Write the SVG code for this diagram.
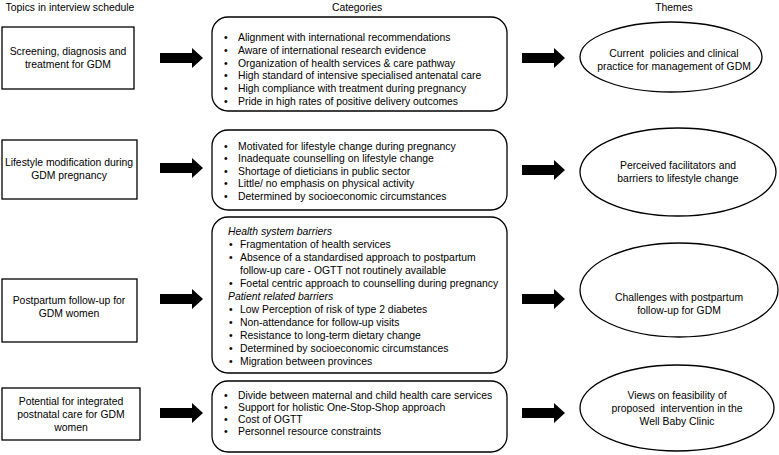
<svg xmlns="http://www.w3.org/2000/svg" width="779" height="455" viewBox="0 0 779 455">
<defs>
<style>
text{font-family:"Liberation Sans",Arial,sans-serif;font-size:10.4px;fill:#000}
.c{text-anchor:middle}
.i{font-style:italic}
.box{fill:#fff;stroke:#000;stroke-width:1.3}
.arr{fill:#000}
</style>
<path id="arr" d="M0,-5 H32 V-10 L43,0 L32,10 V5 H0 Z"/>
</defs>
<rect width="779" height="455" fill="#fff"/>
<g id="headers">
<text class="c" x="70" y="11">Topics in interview schedule</text>
<text class="c" x="357" y="11">Categories</text>
<text class="c" x="674" y="11">Themes</text>
</g>
<g id="topic1"><rect class="box" x="2" y="27" width="132" height="62"/>
<text class="c" x="68" y="55">Screening, diagnosis and</text><text class="c" x="68" y="68">treatment for GDM</text></g>
<g id="topic2"><rect class="box" x="2" y="140" width="135" height="59"/>
<text class="c" x="69" y="166">Lifestyle modification during</text><text class="c" x="69" y="179">GDM pregnancy</text></g>
<g id="topic3"><rect class="box" x="2" y="279" width="135" height="63"/>
<text class="c" x="69" y="304">Postpartum follow-up for</text><text class="c" x="69" y="317">GDM women</text></g>
<g id="topic4"><rect class="box" x="2" y="388" width="138" height="52"/>
<text class="c" x="71" y="405">Potential for integrated</text><text class="c" x="71" y="418">postnatal care for GDM</text><text class="c" x="71" y="431">women</text></g>
<g id="cat1"><rect class="box" x="212" y="17" width="295" height="94" rx="16"/>
<text x="224" y="41">•</text><text x="238" y="41">Alignment with international recommendations</text>
<text x="224" y="53.8">•</text><text x="238" y="53.8">Aware of international research evidence</text>
<text x="224" y="66.6">•</text><text x="238" y="66.6">Organization of health services &amp; care pathway</text>
<text x="224" y="79.4">•</text><text x="238" y="79.4">High standard of intensive specialised antenatal care</text>
<text x="224" y="92.2">•</text><text x="238" y="92.2">High compliance with treatment during pregnancy</text>
<text x="224" y="105">•</text><text x="238" y="105">Pride in high rates of positive delivery outcomes</text>
</g>
<g id="cat2"><rect class="box" x="212" y="130" width="295" height="80" rx="16"/>
<text x="224" y="149.5">•</text><text x="238" y="149.5">Motivated for lifestyle change during pregnancy</text>
<text x="224" y="162">•</text><text x="238" y="162">Inadequate counselling on lifestyle change</text>
<text x="224" y="174.5">•</text><text x="238" y="174.5">Shortage of dieticians in public sector</text>
<text x="224" y="187">•</text><text x="238" y="187">Little/ no emphasis on physical activity</text>
<text x="224" y="199.5">•</text><text x="238" y="199.5">Determined by socioeconomic circumstances</text>
</g>
<g id="cat3"><rect class="box" x="212" y="217" width="295" height="156" rx="16"/>
<text class="i" x="228" y="235">Health system barriers</text>
<text x="229" y="248">•</text><text x="240" y="248">Fragmentation of health services</text>
<text x="229" y="261">•</text><text x="240" y="261">Absence of a standardised approach to postpartum</text>
<text x="240" y="274">follow-up care - OGTT not routinely available</text>
<text x="229" y="287">•</text><text x="240" y="287">Foetal centric approach to counselling during pregnancy</text>
<text class="i" x="228" y="300">Patient related barriers</text>
<text x="229" y="313">•</text><text x="240" y="313">Low Perception of risk of type 2 diabetes</text>
<text x="229" y="326">•</text><text x="240" y="326">Non-attendance for follow-up visits</text>
<text x="229" y="339">•</text><text x="240" y="339">Resistance to long-term dietary change</text>
<text x="229" y="352">•</text><text x="240" y="352">Determined by socioeconomic circumstances</text>
<text x="229" y="365">•</text><text x="240" y="365">Migration between provinces</text>
</g>
<g id="cat4"><rect class="box" x="212" y="381" width="295" height="71" rx="16"/>
<text x="224" y="399">•</text><text x="238" y="399">Divide between maternal and child health care services</text>
<text x="224" y="411">•</text><text x="238" y="411">Support for holistic One-Stop-Shop approach</text>
<text x="224" y="423">•</text><text x="238" y="423">Cost of OGTT</text>
<text x="224" y="435">•</text><text x="238" y="435">Personnel resource constraints</text>
</g>
<g id="theme1"><ellipse class="box" cx="671" cy="57" rx="91" ry="35"/>
<text class="c" x="674" y="57" style="white-space:pre">Current  policies and clinical</text><text class="c" x="674" y="70">practice for management of GDM</text></g>
<g id="theme2"><ellipse class="box" cx="678" cy="172" rx="98" ry="44"/>
<text class="c" x="678" y="169">Perceived facilitators and</text><text class="c" x="678" y="182">barriers to lifestyle change</text></g>
<g id="theme3"><ellipse class="box" cx="679" cy="290" rx="99" ry="47"/>
<text class="c" x="679" y="301">Challenges with postpartum</text><text class="c" x="679" y="314">follow-up for GDM</text></g>
<g id="theme4"><ellipse class="box" cx="677" cy="408" rx="97" ry="43"/>
<text class="c" x="677" y="399">Views on feasibility of</text><text class="c" x="677" y="412" style="white-space:pre">proposed  intervention in the</text><text class="c" x="677" y="425">Well Baby Clinic</text></g>
<g id="connectors" class="arr">
<use href="#arr" x="160" y="58"/>
<use href="#arr" x="522" y="58"/>
<use href="#arr" x="160" y="168"/>
<use href="#arr" x="522" y="170"/>
<use href="#arr" x="160" y="299"/>
<use href="#arr" x="522" y="299"/>
<use href="#arr" x="160" y="413"/>
<use href="#arr" x="522" y="413"/>
</g>
</svg>
